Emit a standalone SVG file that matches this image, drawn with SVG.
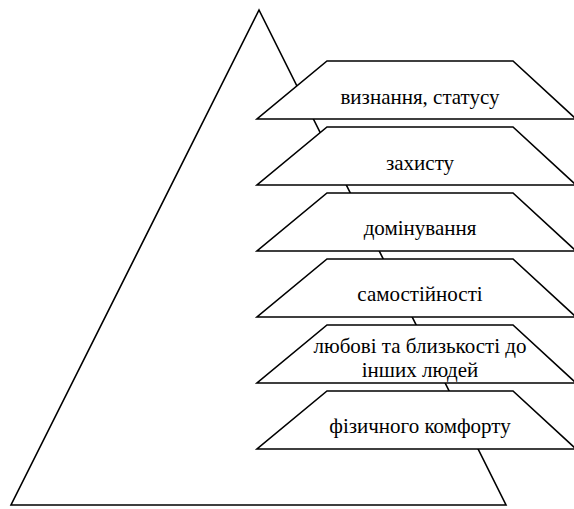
<svg xmlns="http://www.w3.org/2000/svg" width="574" height="509" viewBox="0 0 574 509">
<style>
.s{fill:#fff;stroke:#000;stroke-width:1.6;stroke-linejoin:miter}
.t{font-family:'Liberation Serif','Times New Roman',serif;font-size:21px;fill:#000;text-anchor:middle}
</style>
<rect width="574" height="509" fill="#fff"/>
<g id="pyramid"><polygon class="s" points="259,10 11,505 506,505"/></g>
<g id="connectors"></g>
<g id="n1"><polygon class="s" points="327,61 513,61 576,119 257,119"/><text class="t" x="420" y="104">визнання, статусу</text></g>
<g id="n2"><polygon class="s" points="327,127 513,127 576,185 257,185"/><text class="t" x="420" y="170">захисту</text></g>
<g id="n3"><polygon class="s" points="327,193 513,193 576,251 257,251"/><text class="t" x="420" y="235">домінування</text></g>
<g id="n4"><polygon class="s" points="327,259 513,259 576,317 257,317"/><text class="t" x="420" y="301">самостійності</text></g>
<g id="n5"><polygon class="s" points="327,325 513,325 576,383 257,383"/><text class="t" x="420" y="353">любові та близькості до</text><text class="t" x="420" y="377">інших людей</text></g>
<g id="n6"><polygon class="s" points="327,391 513,391 576,449 257,449"/><text class="t" x="420" y="433">фізичного комфорту</text></g>
</svg>
